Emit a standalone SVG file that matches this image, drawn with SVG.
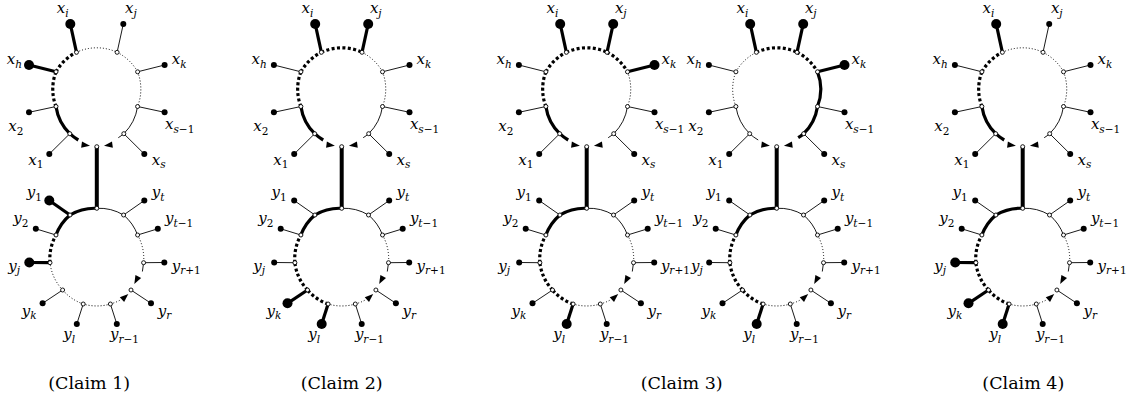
<svg xmlns="http://www.w3.org/2000/svg" xmlns:xlink="http://www.w3.org/1999/xlink" width="1133" height="403" viewBox="0 0 1133 403">
<style>
.tn{fill:none;stroke:#000;stroke-width:0.9}
.dt{fill:none;stroke:#000;stroke-width:1;stroke-dasharray:1 2}
.tk{fill:none;stroke:#000;stroke-width:3.2}
.td{fill:none;stroke:#000;stroke-width:3.2;stroke-dasharray:3 2.4}
.st{fill:none;stroke:#000;stroke-width:4}
.o{fill:#fff;stroke:#000;stroke-width:0.9}
.f{fill:#000}
.m{font-family:"DejaVu Serif",serif;font-style:italic;font-size:15px}
.s{font-size:10.5px}
.u{font-style:normal}
.c{font-family:"DejaVu Serif",serif;font-size:17.5px;text-anchor:middle}
</style>
<defs>
<path id="ah" d="M0,0L-8.5,-3.2L-8.5,3.2Z"/>
<g id="open">
<circle class="o" cx="-20.3" cy="52.3" r="2"/><circle class="o" cx="20.3" cy="52.3" r="2"/>
<circle class="o" cx="-40.8" cy="71.8" r="2"/><circle class="o" cx="40.8" cy="71.8" r="2"/>
<circle class="o" cx="-40.8" cy="106.5" r="2"/><circle class="o" cx="40.8" cy="106.5" r="2"/>
<circle class="o" cx="-27" cy="133.7" r="2"/><circle class="o" cx="27" cy="133.7" r="2"/>
<circle class="o" cx="0" cy="146.7" r="2"/>
<circle class="o" cx="0" cy="208.3" r="2"/>
<circle class="o" cx="-26.8" cy="215" r="2"/><circle class="o" cx="26.8" cy="215" r="2"/>
<circle class="o" cx="-40.8" cy="235" r="2"/><circle class="o" cx="40.8" cy="235" r="2"/>
<circle class="o" cx="-46.8" cy="262.7" r="2"/><circle class="o" cx="46.8" cy="262.7" r="2"/>
<circle class="o" cx="-34.2" cy="290" r="2"/><circle class="o" cx="34.2" cy="290" r="2"/>
<circle class="o" cx="-13.6" cy="304" r="2"/><circle class="o" cx="13.6" cy="304" r="2"/>
</g>
</defs>

<!-- Claim 1 -->
<g id="claim1" transform="translate(96.8,0)">
<g id="c1-edges">
<path class="dt" d="M-20.3,52.3A48,48 0 0 1 20.3,52.3"/>
<path class="dt" d="M20.3,52.3A48,48 0 0 1 40.8,71.8"/>
<path class="dt" d="M40.8,71.8A48,48 0 0 1 40.8,106.5"/>
<path class="tn" d="M40.8,106.5A48,48 0 0 1 27,133.7"/>
<path class="tn" d="M27,133.7A48,48 0 0 1 21.5,137.7"/>
<use xlink:href="#ah" transform="translate(7.2,145.7) rotate(172.4)"/>
<path class="tk" d="M-27,133.7A48,48 0 0 0 -18.5,140"/>
<use xlink:href="#ah" transform="translate(-6.8,145.7) rotate(7.6)"/>
<path class="tk" d="M-27,133.7A48,48 0 0 1 -40.8,106.5"/>
<path class="td" d="M-40.8,106.5A48,48 0 0 1 -40.8,71.8"/>
<path class="td" d="M-40.8,71.8A48,48 0 0 1 -20.3,52.3"/>
<path class="tk" d="M-20.3,52.3L-26.5,24"/>
<path class="tn" d="M20.3,52.3L26.5,24"/>
<path class="tk" d="M-40.8,71.8L-67.8,65"/>
<path class="tn" d="M40.8,71.8L67.8,65"/>
<path class="tn" d="M-40.8,106.5L-67.8,112.3"/>
<path class="tn" d="M40.8,106.5L67.8,112.3"/>
<path class="tn" d="M-27,133.7L-47.5,154"/>
<path class="tn" d="M27,133.7L47.5,154"/>
<path class="st" d="M0,146.7V208.3"/>
<path class="tn" d="M0,208.3A48,48 0 0 1 26.8,215"/>
<path class="tn" d="M26.8,215A48,48 0 0 1 40.8,235"/>
<path class="dt" d="M40.8,235A48,48 0 0 1 46.8,262.7"/>
<path class="tn" d="M46.8,262.7L45.6,271.5"/>
<use xlink:href="#ah" transform="translate(37.5,284) rotate(118)"/>
<path class="dt" d="M13.6,304A48,48 0 0 0 24.5,299.5"/>
<use xlink:href="#ah" transform="translate(31.5,294) rotate(-42)"/>
<path class="dt" d="M13.6,304A48,48 0 0 1 -13.6,304"/>
<path class="dt" d="M-13.6,304A48,48 0 0 1 -34.2,290"/>
<path class="dt" d="M-34.2,290A48,48 0 0 1 -46.8,262.7"/>
<path class="td" d="M-46.8,262.7A48,48 0 0 1 -40.8,235"/>
<path class="tk" d="M-40.8,235A48,48 0 0 1 -26.8,215"/>
<path class="tk" d="M-26.8,215A48,48 0 0 1 0,208.3"/>
<path class="tk" d="M-26.8,215L-47.5,200.5"/>
<path class="tn" d="M26.8,215L47.5,200.5"/>
<path class="tn" d="M-40.8,235L-61,228.8"/>
<path class="tn" d="M40.8,235L61,228.8"/>
<path class="tk" d="M-46.8,262.7L-67.5,262.5"/>
<path class="tn" d="M46.8,262.7L67.5,262.5"/>
<path class="tn" d="M-34.2,290L-54.2,303.3"/>
<path class="tn" d="M34.2,290L54.2,303.3"/>
<path class="tn" d="M-13.6,304L-20,324"/>
<path class="tn" d="M13.6,304L20,324"/>
</g>
<g id="c1-nodes">
<circle class="f" cx="-26.5" cy="24" r="5"/><circle class="f" cx="26.5" cy="24" r="3"/>
<circle class="f" cx="-67.8" cy="65" r="5"/><circle class="f" cx="67.8" cy="65" r="3"/>
<circle class="f" cx="-67.8" cy="112.3" r="3"/><circle class="f" cx="67.8" cy="112.3" r="3"/>
<circle class="f" cx="-47.5" cy="154" r="3"/><circle class="f" cx="47.5" cy="154" r="3"/>
<circle class="f" cx="-47.5" cy="200.5" r="5"/><circle class="f" cx="47.5" cy="200.5" r="3"/>
<circle class="f" cx="-61" cy="228.8" r="3"/><circle class="f" cx="61" cy="228.8" r="3"/>
<circle class="f" cx="-67.5" cy="262.5" r="5"/><circle class="f" cx="67.5" cy="262.5" r="3"/>
<circle class="f" cx="-54.2" cy="303.3" r="3"/><circle class="f" cx="54.2" cy="303.3" r="3"/>
<circle class="f" cx="-20" cy="324" r="3"/><circle class="f" cx="20" cy="324" r="3"/>
<use xlink:href="#open"/>
</g>
<g id="c1-labels">
<text class="m" x="-40.1" y="13">x<tspan class="s" dy="3.5">i</tspan></text>
<text class="m" x="28.2" y="13">x<tspan class="s" dy="3.5">j</tspan></text>
<text class="m" x="-90.1" y="64">x<tspan class="s" dy="3.5">h</tspan></text>
<text class="m" x="74.9" y="64">x<tspan class="s" dy="3.5">k</tspan></text>
<text class="m" x="-88.5" y="131">x<tspan class="s u" dy="3.5">2</tspan></text>
<text class="m" x="68.2" y="129">x<tspan class="s" dy="3.5">s</tspan><tspan class="s u">−1</tspan></text>
<text class="m" x="-68.5" y="164.5">x<tspan class="s u" dy="3.5">1</tspan></text>
<text class="m" x="54.9" y="164.5">x<tspan class="s" dy="3.5">s</tspan></text>
<text class="m" x="-70.1" y="197">y<tspan class="s u" dy="3.5">1</tspan></text>
<text class="m" x="54.9" y="197">y<tspan class="s" dy="3.5">t</tspan></text>
<text class="m" x="-83.5" y="223">y<tspan class="s u" dy="3.5">2</tspan></text>
<text class="m" x="68.2" y="223">y<tspan class="s" dy="3.5">t</tspan><tspan class="s u">−1</tspan></text>
<text class="m" x="-88.5" y="270.5">y<tspan class="s" dy="3.5">j</tspan></text>
<text class="m" x="74.9" y="270.5">y<tspan class="s" dy="3.5">r</tspan><tspan class="s u">+1</tspan></text>
<text class="m" x="-75.1" y="315.5">y<tspan class="s" dy="3.5">k</tspan></text>
<text class="m" x="60.9" y="315.5">y<tspan class="s" dy="3.5">r</tspan></text>
<text class="m" x="-33.5" y="339">y<tspan class="s" dy="3.5">l</tspan></text>
<text class="m" x="13.2" y="339">y<tspan class="s" dy="3.5">r</tspan><tspan class="s u">−1</tspan></text>
</g>
</g>

<!-- Claim 2 -->
<g id="claim2" transform="translate(341.7,0)">
<g id="c2-edges">
<path class="td" d="M-20.3,52.3A48,48 0 0 1 20.3,52.3"/>
<path class="dt" d="M20.3,52.3A48,48 0 0 1 40.8,71.8"/>
<path class="dt" d="M40.8,71.8A48,48 0 0 1 40.8,106.5"/>
<path class="tn" d="M40.8,106.5A48,48 0 0 1 27,133.7"/>
<path class="tn" d="M27,133.7A48,48 0 0 1 21.5,137.7"/>
<use xlink:href="#ah" transform="translate(7.2,145.7) rotate(172.4)"/>
<path class="tk" d="M-27,133.7A48,48 0 0 0 -18.5,140"/>
<use xlink:href="#ah" transform="translate(-6.8,145.7) rotate(7.6)"/>
<path class="tk" d="M-27,133.7A48,48 0 0 1 -40.8,106.5"/>
<path class="td" d="M-40.8,106.5A48,48 0 0 1 -40.8,71.8"/>
<path class="td" d="M-40.8,71.8A48,48 0 0 1 -20.3,52.3"/>
<path class="tk" d="M-20.3,52.3L-26.5,24"/>
<path class="tk" d="M20.3,52.3L26.5,24"/>
<path class="tn" d="M-40.8,71.8L-67.8,65"/>
<path class="tn" d="M40.8,71.8L67.8,65"/>
<path class="tn" d="M-40.8,106.5L-67.8,112.3"/>
<path class="tn" d="M40.8,106.5L67.8,112.3"/>
<path class="tn" d="M-27,133.7L-47.5,154"/>
<path class="tn" d="M27,133.7L47.5,154"/>
<path class="st" d="M0,146.7V208.3"/>
<path class="tn" d="M0,208.3A48,48 0 0 1 26.8,215"/>
<path class="tn" d="M26.8,215A48,48 0 0 1 40.8,235"/>
<path class="dt" d="M40.8,235A48,48 0 0 1 46.8,262.7"/>
<path class="tn" d="M46.8,262.7L45.6,271.5"/>
<use xlink:href="#ah" transform="translate(37.5,284) rotate(118)"/>
<path class="dt" d="M13.6,304A48,48 0 0 0 24.5,299.5"/>
<use xlink:href="#ah" transform="translate(31.5,294) rotate(-42)"/>
<path class="dt" d="M13.6,304A48,48 0 0 1 -13.6,304"/>
<path class="td" d="M-13.6,304A48,48 0 0 1 -34.2,290"/>
<path class="td" d="M-34.2,290A48,48 0 0 1 -46.8,262.7"/>
<path class="td" d="M-46.8,262.7A48,48 0 0 1 -40.8,235"/>
<path class="tk" d="M-40.8,235A48,48 0 0 1 -26.8,215"/>
<path class="tk" d="M-26.8,215A48,48 0 0 1 0,208.3"/>
<path class="tn" d="M-26.8,215L-47.5,200.5"/>
<path class="tn" d="M26.8,215L47.5,200.5"/>
<path class="tn" d="M-40.8,235L-61,228.8"/>
<path class="tn" d="M40.8,235L61,228.8"/>
<path class="tn" d="M-46.8,262.7L-67.5,262.5"/>
<path class="tn" d="M46.8,262.7L67.5,262.5"/>
<path class="tk" d="M-34.2,290L-54.2,303.3"/>
<path class="tn" d="M34.2,290L54.2,303.3"/>
<path class="tk" d="M-13.6,304L-20,324"/>
<path class="tn" d="M13.6,304L20,324"/>
</g>
<g id="c2-nodes">
<circle class="f" cx="-26.5" cy="24" r="5"/><circle class="f" cx="26.5" cy="24" r="5"/>
<circle class="f" cx="-67.8" cy="65" r="3"/><circle class="f" cx="67.8" cy="65" r="3"/>
<circle class="f" cx="-67.8" cy="112.3" r="3"/><circle class="f" cx="67.8" cy="112.3" r="3"/>
<circle class="f" cx="-47.5" cy="154" r="3"/><circle class="f" cx="47.5" cy="154" r="3"/>
<circle class="f" cx="-47.5" cy="200.5" r="3"/><circle class="f" cx="47.5" cy="200.5" r="3"/>
<circle class="f" cx="-61" cy="228.8" r="3"/><circle class="f" cx="61" cy="228.8" r="3"/>
<circle class="f" cx="-67.5" cy="262.5" r="3"/><circle class="f" cx="67.5" cy="262.5" r="3"/>
<circle class="f" cx="-54.2" cy="303.3" r="5"/><circle class="f" cx="54.2" cy="303.3" r="3"/>
<circle class="f" cx="-20" cy="324" r="5"/><circle class="f" cx="20" cy="324" r="3"/>
<use xlink:href="#open"/>
</g>
<g id="c2-labels">
<text class="m" x="-40.1" y="13">x<tspan class="s" dy="3.5">i</tspan></text>
<text class="m" x="28.2" y="13">x<tspan class="s" dy="3.5">j</tspan></text>
<text class="m" x="-90.1" y="64">x<tspan class="s" dy="3.5">h</tspan></text>
<text class="m" x="74.9" y="64">x<tspan class="s" dy="3.5">k</tspan></text>
<text class="m" x="-88.5" y="131">x<tspan class="s u" dy="3.5">2</tspan></text>
<text class="m" x="68.2" y="129">x<tspan class="s" dy="3.5">s</tspan><tspan class="s u">−1</tspan></text>
<text class="m" x="-68.5" y="164.5">x<tspan class="s u" dy="3.5">1</tspan></text>
<text class="m" x="54.9" y="164.5">x<tspan class="s" dy="3.5">s</tspan></text>
<text class="m" x="-70.1" y="197">y<tspan class="s u" dy="3.5">1</tspan></text>
<text class="m" x="54.9" y="197">y<tspan class="s" dy="3.5">t</tspan></text>
<text class="m" x="-83.5" y="223">y<tspan class="s u" dy="3.5">2</tspan></text>
<text class="m" x="68.2" y="223">y<tspan class="s" dy="3.5">t</tspan><tspan class="s u">−1</tspan></text>
<text class="m" x="-88.5" y="270.5">y<tspan class="s" dy="3.5">j</tspan></text>
<text class="m" x="74.9" y="270.5">y<tspan class="s" dy="3.5">r</tspan><tspan class="s u">+1</tspan></text>
<text class="m" x="-75.1" y="315.5">y<tspan class="s" dy="3.5">k</tspan></text>
<text class="m" x="60.9" y="315.5">y<tspan class="s" dy="3.5">r</tspan></text>
<text class="m" x="-33.5" y="339">y<tspan class="s" dy="3.5">l</tspan></text>
<text class="m" x="13.2" y="339">y<tspan class="s" dy="3.5">r</tspan><tspan class="s u">−1</tspan></text>
</g>
</g>

<!-- Claim 3 left -->
<g id="claim3a" transform="translate(586.7,0)">
<g id="c3a-edges">
<path class="td" d="M-20.3,52.3A48,48 0 0 1 20.3,52.3"/>
<path class="td" d="M20.3,52.3A48,48 0 0 1 40.8,71.8"/>
<path class="dt" d="M40.8,71.8A48,48 0 0 1 40.8,106.5"/>
<path class="tn" d="M40.8,106.5A48,48 0 0 1 27,133.7"/>
<path class="tn" d="M27,133.7A48,48 0 0 1 21.5,137.7"/>
<use xlink:href="#ah" transform="translate(7.2,145.7) rotate(172.4)"/>
<path class="tk" d="M-27,133.7A48,48 0 0 0 -18.5,140"/>
<use xlink:href="#ah" transform="translate(-6.8,145.7) rotate(7.6)"/>
<path class="tk" d="M-27,133.7A48,48 0 0 1 -40.8,106.5"/>
<path class="td" d="M-40.8,106.5A48,48 0 0 1 -40.8,71.8"/>
<path class="td" d="M-40.8,71.8A48,48 0 0 1 -20.3,52.3"/>
<path class="tk" d="M-20.3,52.3L-26.5,24"/>
<path class="tk" d="M20.3,52.3L26.5,24"/>
<path class="tn" d="M-40.8,71.8L-67.8,65"/>
<path class="tk" d="M40.8,71.8L67.8,65"/>
<path class="tn" d="M-40.8,106.5L-67.8,112.3"/>
<path class="tn" d="M40.8,106.5L67.8,112.3"/>
<path class="tn" d="M-27,133.7L-47.5,154"/>
<path class="tn" d="M27,133.7L47.5,154"/>
<path class="st" d="M0,146.7V208.3"/>
<path class="tn" d="M0,208.3A48,48 0 0 1 26.8,215"/>
<path class="tn" d="M26.8,215A48,48 0 0 1 40.8,235"/>
<path class="dt" d="M40.8,235A48,48 0 0 1 46.8,262.7"/>
<path class="tn" d="M46.8,262.7L45.6,271.5"/>
<use xlink:href="#ah" transform="translate(37.5,284) rotate(118)"/>
<path class="dt" d="M13.6,304A48,48 0 0 0 24.5,299.5"/>
<use xlink:href="#ah" transform="translate(31.5,294) rotate(-42)"/>
<path class="dt" d="M13.6,304A48,48 0 0 1 -13.6,304"/>
<path class="td" d="M-13.6,304A48,48 0 0 1 -34.2,290"/>
<path class="td" d="M-34.2,290A48,48 0 0 1 -46.8,262.7"/>
<path class="td" d="M-46.8,262.7A48,48 0 0 1 -40.8,235"/>
<path class="tk" d="M-40.8,235A48,48 0 0 1 -26.8,215"/>
<path class="tk" d="M-26.8,215A48,48 0 0 1 0,208.3"/>
<path class="tn" d="M-26.8,215L-47.5,200.5"/>
<path class="tn" d="M26.8,215L47.5,200.5"/>
<path class="tn" d="M-40.8,235L-61,228.8"/>
<path class="tn" d="M40.8,235L61,228.8"/>
<path class="tn" d="M-46.8,262.7L-67.5,262.5"/>
<path class="tn" d="M46.8,262.7L67.5,262.5"/>
<path class="tn" d="M-34.2,290L-54.2,303.3"/>
<path class="tn" d="M34.2,290L54.2,303.3"/>
<path class="tk" d="M-13.6,304L-20,324"/>
<path class="tn" d="M13.6,304L20,324"/>
</g>
<g id="c3a-nodes">
<circle class="f" cx="-26.5" cy="24" r="5"/><circle class="f" cx="26.5" cy="24" r="5"/>
<circle class="f" cx="-67.8" cy="65" r="3"/><circle class="f" cx="67.8" cy="65" r="5"/>
<circle class="f" cx="-67.8" cy="112.3" r="3"/><circle class="f" cx="67.8" cy="112.3" r="3"/>
<circle class="f" cx="-47.5" cy="154" r="3"/><circle class="f" cx="47.5" cy="154" r="3"/>
<circle class="f" cx="-47.5" cy="200.5" r="3"/><circle class="f" cx="47.5" cy="200.5" r="3"/>
<circle class="f" cx="-61" cy="228.8" r="3"/><circle class="f" cx="61" cy="228.8" r="3"/>
<circle class="f" cx="-67.5" cy="262.5" r="3"/><circle class="f" cx="67.5" cy="262.5" r="3"/>
<circle class="f" cx="-54.2" cy="303.3" r="3"/><circle class="f" cx="54.2" cy="303.3" r="3"/>
<circle class="f" cx="-20" cy="324" r="5"/><circle class="f" cx="20" cy="324" r="3"/>
<use xlink:href="#open"/>
</g>
<g id="c3a-labels">
<text class="m" x="-40.1" y="13">x<tspan class="s" dy="3.5">i</tspan></text>
<text class="m" x="28.2" y="13">x<tspan class="s" dy="3.5">j</tspan></text>
<text class="m" x="-90.1" y="64">x<tspan class="s" dy="3.5">h</tspan></text>
<text class="m" x="74.9" y="64">x<tspan class="s" dy="3.5">k</tspan></text>
<text class="m" x="-88.5" y="131">x<tspan class="s u" dy="3.5">2</tspan></text>
<text class="m" x="68.2" y="129">x<tspan class="s" dy="3.5">s</tspan><tspan class="s u">−1</tspan></text>
<text class="m" x="-68.5" y="164.5">x<tspan class="s u" dy="3.5">1</tspan></text>
<text class="m" x="54.9" y="164.5">x<tspan class="s" dy="3.5">s</tspan></text>
<text class="m" x="-70.1" y="197">y<tspan class="s u" dy="3.5">1</tspan></text>
<text class="m" x="54.9" y="197">y<tspan class="s" dy="3.5">t</tspan></text>
<text class="m" x="-83.5" y="223">y<tspan class="s u" dy="3.5">2</tspan></text>
<text class="m" x="68.2" y="223">y<tspan class="s" dy="3.5">t</tspan><tspan class="s u">−1</tspan></text>
<text class="m" x="-88.5" y="270.5">y<tspan class="s" dy="3.5">j</tspan></text>
<text class="m" x="74.2" y="270.5">y<tspan class="s" dy="3.5">r</tspan><tspan class="s u">+1</tspan></text>
<text class="m" x="-75.1" y="315.5">y<tspan class="s" dy="3.5">k</tspan></text>
<text class="m" x="60.9" y="315.5">y<tspan class="s" dy="3.5">r</tspan></text>
<text class="m" x="-33.5" y="339">y<tspan class="s" dy="3.5">l</tspan></text>
<text class="m" x="13.2" y="339">y<tspan class="s" dy="3.5">r</tspan><tspan class="s u">−1</tspan></text>
</g>
</g>

<!-- Claim 3 right -->
<g id="claim3b" transform="translate(776.7,0)">
<g id="c3b-edges">
<path class="td" d="M-20.3,52.3A48,48 0 0 1 20.3,52.3"/>
<path class="td" d="M20.3,52.3A48,48 0 0 1 40.8,71.8"/>
<path class="tk" d="M40.8,71.8A48,48 0 0 1 40.8,106.5"/>
<path class="tk" d="M40.8,106.5A48,48 0 0 1 27,133.7"/>
<path class="tk" d="M27,133.7A48,48 0 0 1 21.5,137.7"/>
<use xlink:href="#ah" transform="translate(7.2,145.7) rotate(172.4)"/>
<path class="tn" d="M-27,133.7A48,48 0 0 0 -18.5,140"/>
<use xlink:href="#ah" transform="translate(-6.8,145.7) rotate(7.6)"/>
<path class="tn" d="M-27,133.7A48,48 0 0 1 -40.8,106.5"/>
<path class="dt" d="M-40.8,106.5A48,48 0 0 1 -40.8,71.8"/>
<path class="dt" d="M-40.8,71.8A48,48 0 0 1 -20.3,52.3"/>
<path class="tk" d="M-20.3,52.3L-26.5,24"/>
<path class="tk" d="M20.3,52.3L26.5,24"/>
<path class="tn" d="M-40.8,71.8L-67.8,65"/>
<path class="tk" d="M40.8,71.8L67.8,65"/>
<path class="tn" d="M-40.8,106.5L-67.8,112.3"/>
<path class="tn" d="M40.8,106.5L67.8,112.3"/>
<path class="tn" d="M-27,133.7L-47.5,154"/>
<path class="tn" d="M27,133.7L47.5,154"/>
<path class="st" d="M0,146.7V208.3"/>
<path class="tn" d="M0,208.3A48,48 0 0 1 26.8,215"/>
<path class="tn" d="M26.8,215A48,48 0 0 1 40.8,235"/>
<path class="dt" d="M40.8,235A48,48 0 0 1 46.8,262.7"/>
<path class="tn" d="M46.8,262.7L45.6,271.5"/>
<use xlink:href="#ah" transform="translate(37.5,284) rotate(118)"/>
<path class="dt" d="M13.6,304A48,48 0 0 0 24.5,299.5"/>
<use xlink:href="#ah" transform="translate(31.5,294) rotate(-42)"/>
<path class="dt" d="M13.6,304A48,48 0 0 1 -13.6,304"/>
<path class="td" d="M-13.6,304A48,48 0 0 1 -34.2,290"/>
<path class="td" d="M-34.2,290A48,48 0 0 1 -46.8,262.7"/>
<path class="td" d="M-46.8,262.7A48,48 0 0 1 -40.8,235"/>
<path class="tk" d="M-40.8,235A48,48 0 0 1 -26.8,215"/>
<path class="tk" d="M-26.8,215A48,48 0 0 1 0,208.3"/>
<path class="tn" d="M-26.8,215L-47.5,200.5"/>
<path class="tn" d="M26.8,215L47.5,200.5"/>
<path class="tn" d="M-40.8,235L-61,228.8"/>
<path class="tn" d="M40.8,235L61,228.8"/>
<path class="tn" d="M-46.8,262.7L-67.5,262.5"/>
<path class="tn" d="M46.8,262.7L67.5,262.5"/>
<path class="tn" d="M-34.2,290L-54.2,303.3"/>
<path class="tn" d="M34.2,290L54.2,303.3"/>
<path class="tk" d="M-13.6,304L-20,324"/>
<path class="tn" d="M13.6,304L20,324"/>
</g>
<g id="c3b-nodes">
<circle class="f" cx="-26.5" cy="24" r="5"/><circle class="f" cx="26.5" cy="24" r="5"/>
<circle class="f" cx="-67.8" cy="65" r="3"/><circle class="f" cx="67.8" cy="65" r="5"/>
<circle class="f" cx="-67.8" cy="112.3" r="3"/><circle class="f" cx="67.8" cy="112.3" r="3"/>
<circle class="f" cx="-47.5" cy="154" r="3"/><circle class="f" cx="47.5" cy="154" r="3"/>
<circle class="f" cx="-47.5" cy="200.5" r="3"/><circle class="f" cx="47.5" cy="200.5" r="3"/>
<circle class="f" cx="-61" cy="228.8" r="3"/><circle class="f" cx="61" cy="228.8" r="3"/>
<circle class="f" cx="-67.5" cy="262.5" r="3"/><circle class="f" cx="67.5" cy="262.5" r="3"/>
<circle class="f" cx="-54.2" cy="303.3" r="3"/><circle class="f" cx="54.2" cy="303.3" r="3"/>
<circle class="f" cx="-20" cy="324" r="5"/><circle class="f" cx="20" cy="324" r="3"/>
<use xlink:href="#open"/>
</g>
<g id="c3b-labels">
<text class="m" x="-40.1" y="13">x<tspan class="s" dy="3.5">i</tspan></text>
<text class="m" x="28.2" y="13">x<tspan class="s" dy="3.5">j</tspan></text>
<text class="m" x="-90.1" y="64">x<tspan class="s" dy="3.5">h</tspan></text>
<text class="m" x="74.9" y="64">x<tspan class="s" dy="3.5">k</tspan></text>
<text class="m" x="-88.5" y="131">x<tspan class="s u" dy="3.5">2</tspan></text>
<text class="m" x="68.2" y="129">x<tspan class="s" dy="3.5">s</tspan><tspan class="s u">−1</tspan></text>
<text class="m" x="-68.5" y="164.5">x<tspan class="s u" dy="3.5">1</tspan></text>
<text class="m" x="54.9" y="164.5">x<tspan class="s" dy="3.5">s</tspan></text>
<text class="m" x="-70.1" y="197">y<tspan class="s u" dy="3.5">1</tspan></text>
<text class="m" x="54.9" y="197">y<tspan class="s" dy="3.5">t</tspan></text>
<text class="m" x="-83.5" y="223">y<tspan class="s u" dy="3.5">2</tspan></text>
<text class="m" x="68.2" y="223">y<tspan class="s" dy="3.5">t</tspan><tspan class="s u">−1</tspan></text>
<text class="m" x="-85.6" y="270.5">y<tspan class="s" dy="3.5">j</tspan></text>
<text class="m" x="74.9" y="270.5">y<tspan class="s" dy="3.5">r</tspan><tspan class="s u">+1</tspan></text>
<text class="m" x="-75.1" y="315.5">y<tspan class="s" dy="3.5">k</tspan></text>
<text class="m" x="60.9" y="315.5">y<tspan class="s" dy="3.5">r</tspan></text>
<text class="m" x="-33.5" y="339">y<tspan class="s" dy="3.5">l</tspan></text>
<text class="m" x="13.2" y="339">y<tspan class="s" dy="3.5">r</tspan><tspan class="s u">−1</tspan></text>
</g>
</g>

<!-- Claim 4 -->
<g id="claim4" transform="translate(1022.7,0)">
<g id="c4-edges">
<path class="dt" d="M-20.3,52.3A48,48 0 0 1 20.3,52.3"/>
<path class="dt" d="M20.3,52.3A48,48 0 0 1 40.8,71.8"/>
<path class="dt" d="M40.8,71.8A48,48 0 0 1 40.8,106.5"/>
<path class="tn" d="M40.8,106.5A48,48 0 0 1 27,133.7"/>
<path class="tn" d="M27,133.7A48,48 0 0 1 21.5,137.7"/>
<use xlink:href="#ah" transform="translate(7.2,145.7) rotate(172.4)"/>
<path class="tk" d="M-27,133.7A48,48 0 0 0 -18.5,140"/>
<use xlink:href="#ah" transform="translate(-6.8,145.7) rotate(7.6)"/>
<path class="tk" d="M-27,133.7A48,48 0 0 1 -40.8,106.5"/>
<path class="td" d="M-40.8,106.5A48,48 0 0 1 -40.8,71.8"/>
<path class="td" d="M-40.8,71.8A48,48 0 0 1 -20.3,52.3"/>
<path class="tk" d="M-20.3,52.3L-26.5,24"/>
<path class="tn" d="M20.3,52.3L26.5,24"/>
<path class="tn" d="M-40.8,71.8L-67.8,65"/>
<path class="tn" d="M40.8,71.8L67.8,65"/>
<path class="tn" d="M-40.8,106.5L-67.8,112.3"/>
<path class="tn" d="M40.8,106.5L67.8,112.3"/>
<path class="tn" d="M-27,133.7L-47.5,154"/>
<path class="tn" d="M27,133.7L47.5,154"/>
<path class="st" d="M0,146.7V208.3"/>
<path class="tn" d="M0,208.3A48,48 0 0 1 26.8,215"/>
<path class="tn" d="M26.8,215A48,48 0 0 1 40.8,235"/>
<path class="dt" d="M40.8,235A48,48 0 0 1 46.8,262.7"/>
<path class="tn" d="M46.8,262.7L45.6,271.5"/>
<use xlink:href="#ah" transform="translate(37.5,284) rotate(118)"/>
<path class="dt" d="M13.6,304A48,48 0 0 0 24.5,299.5"/>
<use xlink:href="#ah" transform="translate(31.5,294) rotate(-42)"/>
<path class="dt" d="M13.6,304A48,48 0 0 1 -13.6,304"/>
<path class="td" d="M-13.6,304A48,48 0 0 1 -34.2,290"/>
<path class="td" d="M-34.2,290A48,48 0 0 1 -46.8,262.7"/>
<path class="td" d="M-46.8,262.7A48,48 0 0 1 -40.8,235"/>
<path class="tk" d="M-40.8,235A48,48 0 0 1 -26.8,215"/>
<path class="tk" d="M-26.8,215A48,48 0 0 1 0,208.3"/>
<path class="tn" d="M-26.8,215L-47.5,200.5"/>
<path class="tn" d="M26.8,215L47.5,200.5"/>
<path class="tn" d="M-40.8,235L-61,228.8"/>
<path class="tn" d="M40.8,235L61,228.8"/>
<path class="tk" d="M-46.8,262.7L-67.5,262.5"/>
<path class="tn" d="M46.8,262.7L67.5,262.5"/>
<path class="tk" d="M-34.2,290L-54.2,303.3"/>
<path class="tn" d="M34.2,290L54.2,303.3"/>
<path class="tk" d="M-13.6,304L-20,324"/>
<path class="tn" d="M13.6,304L20,324"/>
</g>
<g id="c4-nodes">
<circle class="f" cx="-26.5" cy="24" r="5"/><circle class="f" cx="26.5" cy="24" r="3"/>
<circle class="f" cx="-67.8" cy="65" r="3"/><circle class="f" cx="67.8" cy="65" r="3"/>
<circle class="f" cx="-67.8" cy="112.3" r="3"/><circle class="f" cx="67.8" cy="112.3" r="3"/>
<circle class="f" cx="-47.5" cy="154" r="3"/><circle class="f" cx="47.5" cy="154" r="3"/>
<circle class="f" cx="-47.5" cy="200.5" r="3"/><circle class="f" cx="47.5" cy="200.5" r="3"/>
<circle class="f" cx="-61" cy="228.8" r="3"/><circle class="f" cx="61" cy="228.8" r="3"/>
<circle class="f" cx="-67.5" cy="262.5" r="5"/><circle class="f" cx="67.5" cy="262.5" r="3"/>
<circle class="f" cx="-54.2" cy="303.3" r="5"/><circle class="f" cx="54.2" cy="303.3" r="3"/>
<circle class="f" cx="-20" cy="324" r="5"/><circle class="f" cx="20" cy="324" r="3"/>
<use xlink:href="#open"/>
</g>
<g id="c4-labels">
<text class="m" x="-40.1" y="13">x<tspan class="s" dy="3.5">i</tspan></text>
<text class="m" x="28.2" y="13">x<tspan class="s" dy="3.5">j</tspan></text>
<text class="m" x="-90.1" y="64">x<tspan class="s" dy="3.5">h</tspan></text>
<text class="m" x="74.9" y="64">x<tspan class="s" dy="3.5">k</tspan></text>
<text class="m" x="-88.5" y="131">x<tspan class="s u" dy="3.5">2</tspan></text>
<text class="m" x="68.2" y="129">x<tspan class="s" dy="3.5">s</tspan><tspan class="s u">−1</tspan></text>
<text class="m" x="-68.5" y="164.5">x<tspan class="s u" dy="3.5">1</tspan></text>
<text class="m" x="54.9" y="164.5">x<tspan class="s" dy="3.5">s</tspan></text>
<text class="m" x="-70.1" y="197">y<tspan class="s u" dy="3.5">1</tspan></text>
<text class="m" x="54.9" y="197">y<tspan class="s" dy="3.5">t</tspan></text>
<text class="m" x="-83.5" y="223">y<tspan class="s u" dy="3.5">2</tspan></text>
<text class="m" x="68.2" y="223">y<tspan class="s" dy="3.5">t</tspan><tspan class="s u">−1</tspan></text>
<text class="m" x="-88.5" y="270.5">y<tspan class="s" dy="3.5">j</tspan></text>
<text class="m" x="74.9" y="270.5">y<tspan class="s" dy="3.5">r</tspan><tspan class="s u">+1</tspan></text>
<text class="m" x="-75.1" y="315.5">y<tspan class="s" dy="3.5">k</tspan></text>
<text class="m" x="60.9" y="315.5">y<tspan class="s" dy="3.5">r</tspan></text>
<text class="m" x="-33.5" y="339">y<tspan class="s" dy="3.5">l</tspan></text>
<text class="m" x="13.2" y="339">y<tspan class="s" dy="3.5">r</tspan><tspan class="s u">−1</tspan></text>
</g>
</g>

<g id="captions">
<text class="c" x="89.2" y="389">(Claim 1)</text>
<text class="c" x="341.7" y="389">(Claim 2)</text>
<text class="c" x="681.7" y="389">(Claim 3)</text>
<text class="c" x="1023.3" y="389">(Claim 4)</text>
</g>
</svg>
